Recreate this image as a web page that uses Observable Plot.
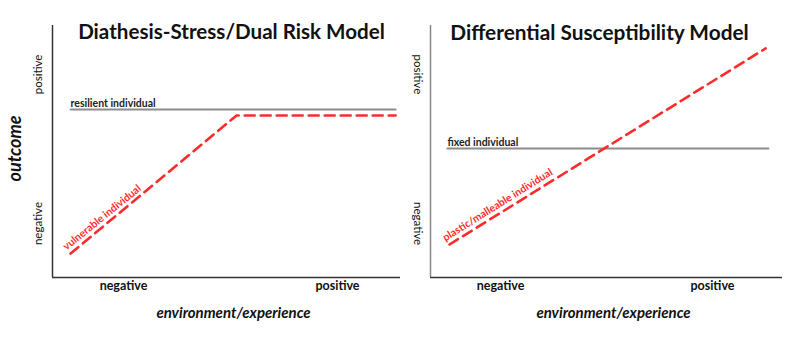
<!DOCTYPE html>
<html>
<head>
<meta charset="utf-8">
<script src="https://cdn.jsdelivr.net/npm/d3@7"></script>
<script src="https://cdn.jsdelivr.net/npm/@observablehq/plot@0.6"></script>
<style>
  html, body { margin: 0; padding: 0; background: #fff; }
  #wrap { display: flex; width: 796px; height: 354px; overflow: hidden; }
  #wrap svg { display: block; }
</style>
</head>
<body>
<div id="wrap"></div>
<script>
// ---- shared labels ----
const xTickLabels = ["negative", "positive"];
const yTickLabels = ["negative", "positive"];
const yTickValues = [2.14, 8.06];
const xAxisTitle = "environment/experience";
const yAxisTitle = "outcome";

// ---- Left panel: Diathesis-Stress / Dual Risk Model ----
const leftTitle = "Diathesis-Stress/Dual Risk Model";
const leftXTickValues = [2.04, 8.19];
const resilientLabel = "resilient individual";
const resilientX = [0.52, 9.86];
const resilientY = [6.67, 6.67];
const vulnerableLabel = "vulnerable individual";
const vulnerableX = [0.52, 5.29, 9.86];
const vulnerableY = [0.95, 6.43, 6.43];

// ---- Right panel: Differential Susceptibility Model ----
const rightTitle = "Differential Susceptibility Model";
const rightXTickValues = [1.99, 8.01];
const fixedLabel = "fixed individual";
const fixedX = [0.48, 9.6];
const fixedY = [5.12, 5.12];
const plasticLabel = "plastic/malleable individual";
const plasticX = [0.54, 9.52];
const plasticY = [1.31, 9.09];

const FONT = "Lato, 'Open Sans', sans-serif";
const RED = "#ff2b2b";
const GRAY = "#8c8c8c";

const pts = (xs, ys) => xs.map((x, i) => ({x, y: ys[i]}));

function panel({width, marginLeft, marginRight, title, titleDx, titleDy, titleSize, xTicks,
                solid, solidLabel, dashed, dashedLabel, dashedRotate, yRotate, yDx, showYTitle, yAxisStroke}) {
  const marks = [
    Plot.ruleX([0], {stroke: yAxisStroke, strokeWidth: 1.5}),
    Plot.ruleY([0], {stroke: "#333", strokeWidth: 1.5}),
    Plot.line(solid, {x: "x", y: "y", stroke: GRAY, strokeWidth: 2}),
    Plot.line(dashed, {x: "x", y: "y", stroke: RED, strokeWidth: 2.6, strokeDasharray: "10,6"}),
    Plot.text([solid[0]], {x: "x", y: "y", text: [solidLabel], textAnchor: "start", lineAnchor: "bottom",
      dy: -2, fontSize: 10.5, fontWeight: "bold", fill: "#222"}),
    Plot.text([dashed[0]], {x: "x", y: "y", text: [dashedLabel], textAnchor: "start", lineAnchor: "bottom",
      rotate: dashedRotate, dx: -4, dy: -3, fontSize: 10.5, fontWeight: "bold", fill: RED}),
    Plot.text([title], {frameAnchor: "top", text: d => d, dx: titleDx, dy: titleDy, fontSize: titleSize,
      fontWeight: "bold", fill: "#111"}),
    Plot.text(xTickLabels, {x: xTicks, frameAnchor: "bottom", text: d => d, dy: 12, fontSize: 12.5,
      fontWeight: "bold", fill: "#111"}),
    Plot.text([xAxisTitle], {frameAnchor: "bottom", text: d => d, dx: 7, dy: 40, fontSize: 15,
      fontWeight: "bold", fontStyle: "italic", fill: "#111"}),
    Plot.text(yTickLabels, {y: yTickValues, frameAnchor: "left", textAnchor: "middle", text: d => d,
      rotate: yRotate, dx: yDx, fontSize: 11.5, fill: "#111"})
  ];
  if (showYTitle) {
    marks.push(Plot.text([yAxisTitle], {frameAnchor: "left", textAnchor: "middle", text: d => d,
      rotate: -90, dx: -37, dy: -3, fontSize: 18, fontWeight: "bold", fontStyle: "italic", fill: "#111"}));
  }
  return Plot.plot({
    width, height: 354,
    marginLeft, marginRight, marginTop: 25, marginBottom: 77,
    x: {domain: [0, 10], axis: null},
    y: {domain: [0, 10], axis: null},
    style: {fontFamily: FONT, background: "transparent", overflow: "visible"},
    marks
  });
}

const left = panel({
  width: 400, marginLeft: 52, marginRight: 0,
  title: leftTitle, titleDx: 5, titleDy: -1, titleSize: 20.6,
  xTicks: leftXTickValues,
  solid: pts(resilientX, resilientY), solidLabel: resilientLabel,
  dashed: pts(vulnerableX, vulnerableY), dashedLabel: vulnerableLabel, dashedRotate: -39,
  yRotate: -90, yDx: -14, showYTitle: true, yAxisStroke: "#333"
});
const right = panel({
  width: 396, marginLeft: 30, marginRight: 14,
  title: rightTitle, titleDx: -7, titleDy: 0, titleSize: 20.8,
  xTicks: rightXTickValues,
  solid: pts(fixedX, fixedY), solidLabel: fixedLabel,
  dashed: pts(plasticX, plasticY), dashedLabel: plasticLabel, dashedRotate: -32,
  yRotate: 90, yDx: -13, showYTitle: false, yAxisStroke: "#888"
});
document.getElementById("wrap").append(left, right);
</script>
</body>
</html>
